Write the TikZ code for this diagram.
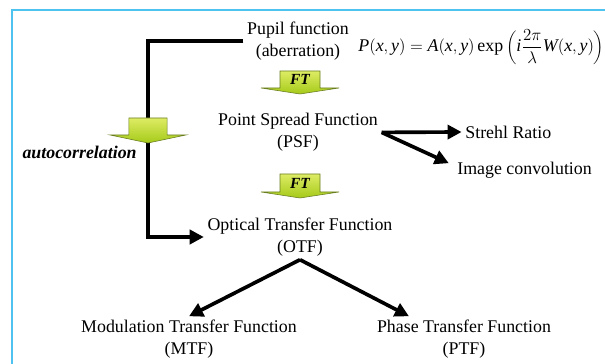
\documentclass[tikz,border=0pt]{standalone}
\usepackage{fontspec}
\setmainfont{Liberation Serif}
\usetikzlibrary{arrows.meta,positioning}

\definecolor{framecol}{RGB}{79,195,240}
\definecolor{ftlight}{RGB}{222,236,100}
\definecolor{ftdark}{RGB}{165,202,25}
\definecolor{ftedge}{RGB}{105,125,35}

\tikzset{
  txt/.style={align=center, inner sep=2.5pt},
  conn/.style={line width=2.6pt, -{Triangle[length=10pt,width=10pt]}},
  ftarrow/.style={top color=ftlight, bottom color=ftdark, draw=ftedge, line width=0.4pt},
  ftlabel/.style={inner sep=0pt, font=\fontsize{11}{13}\selectfont\bfseries\itshape}
}

\begin{document}
\begin{tikzpicture}[font=\fontsize{12.7}{15.3}\selectfont]
\useasboundingbox (0,0) rectangle (15.125,9.1);

% frame on the left and top
\draw[framecol, line width=1.8pt] (0.3,0) -- (0.3,8.85) -- (15.125,8.85);

% the functions
\node[txt] (pupil) at (7.45,8.075) {Pupil function\\(aberration)};
\node[txt, right=0.05cm of pupil, yshift=-0.15cm] (pupilfn)
  {$\displaystyle \mathit{P}(\mathit{x},\mathit{y})=\mathit{A}(\mathit{x},\mathit{y})\exp\left(\mathit{i}\frac{2\pi}{\lambda}\mathit{W}(\mathit{x},\mathit{y})\right)$};
\node[txt] (psf) at (7.45,5.79) {Point Spread Function\\(PSF)};
\node[txt, anchor=west] (strehl) at (11.54,5.8) {Strehl Ratio};
\node[txt, anchor=west] (imgconv) at (11.34,4.85) {Image convolution};
\node[txt, font=\fontsize{12.7}{15.3}\selectfont\bfseries\itshape] (autocorr) at (1.99,5.3) {autocorrelation};
\node[txt] (otf) at (7.5,3.175) {Optical Transfer Function\\(OTF)};
\node[txt] (mtf) at (4.725,0.625) {Modulation Transfer Function\\(MTF)};
\node[txt] (ptf) at (11.6,0.625) {Phase Transfer Function\\(PTF)};

% connectors
\coordinate (bend) at (3.7,3.2);
\draw[conn] (pupil.west) -| (bend |- otf.west) -- (otf.west);
\draw[conn] (psf.east) -- (strehl.west);
\draw[conn] (psf.east) -- ([xshift=-0.12cm,yshift=0.17cm]imgconv.west);
\draw[conn] (otf.south) -- (mtf.north);
\draw[conn] (otf.south) -- ([xshift=-1.375cm]ptf.north);

% block arrows
\draw[ftarrow] (7.0,7.325) -- (8.0,7.325) -- (8.0,6.9) -- (8.475,6.9) -- (7.5,6.75)
  -- (6.525,6.9) -- (7.0,6.9) -- cycle;
\node[ftlabel] (ft1) at (7.5,7.11) {FT};
\draw[ftarrow] (7.0,4.75) -- (8.0,4.75) -- (8.0,4.3) -- (8.475,4.3) -- (7.5,4.15)
  -- (6.525,4.3) -- (7.0,4.3) -- cycle;
\node[ftlabel] (ft2) at (7.5,4.525) {FT};
\draw[ftarrow] (3.22,6.15) -- (4.18,6.15) -- (4.18,5.725) -- (4.65,5.725) -- (3.7,5.525)
  -- (2.75,5.725) -- (3.22,5.725) -- cycle;
\end{tikzpicture}
\end{document}
